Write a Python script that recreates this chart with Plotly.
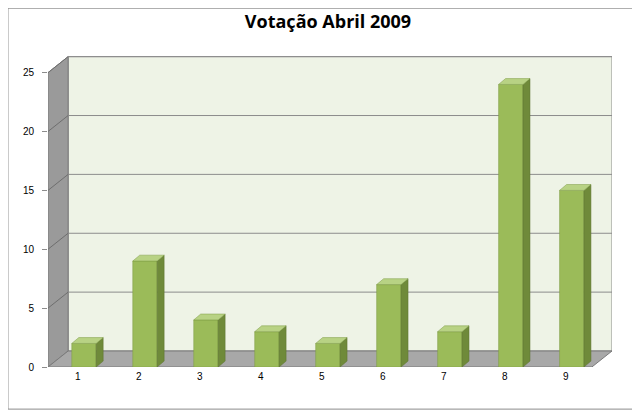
import plotly.graph_objects as go

categories = [1, 2, 3, 4, 5, 6, 7, 8, 9]
votes = [2, 9, 4, 3, 2, 7, 3, 24, 15]
tick_vals = [0, 5, 10, 15, 20, 25]

X0, X1 = 0.51, 9.76
WX, WY = 0.33, 1.36      # wall depth offset
BX, BY = 0.115, 0.5      # bar depth offset
HW = 0.2                 # half bar width

fig = go.Figure()
shapes = []
shapes.append(dict(type="rect", xref="x", yref="y", x0=X0 + WX, x1=X1, y0=WY, y1=25 + WY,
                   fillcolor="#eef3e6", line=dict(color="#8c8c8c", width=1), layer="below"))
shapes.append(dict(type="path", xref="x", yref="y",
                   path=f"M{X0},0 L{X0+WX},{WY} L{X0+WX},{25+WY} L{X0},25 Z",
                   fillcolor="#9a9a9a", line=dict(color="#7a7a7a", width=1), layer="below"))
shapes.append(dict(type="path", xref="x", yref="y",
                   path=f"M{X0},0 L{X1-WX},0 L{X1},{WY} L{X0+WX},{WY} Z",
                   fillcolor="#a8a8a8", line=dict(color="#7a7a7a", width=1), layer="below"))
for t in tick_vals[1:]:
    shapes.append(dict(type="line", xref="x", yref="y", x0=X0 + WX, x1=X1, y0=t + WY, y1=t + WY,
                       line=dict(color="#8c8c8c", width=1), layer="below"))
    shapes.append(dict(type="line", xref="x", yref="y", x0=X0, x1=X0 + WX, y0=t, y1=t + WY,
                       line=dict(color="#6e6e6e", width=1), layer="below"))
for c, v in zip(categories, votes):
    x = c + 0.1
    shapes.append(dict(type="path", xref="x", yref="y",
                       path=f"M{x+HW},0 L{x+HW+BX},{BY} L{x+HW+BX},{v+BY} L{x+HW},{v} Z",
                       fillcolor="#6f8a3a", line=dict(color="#5c7330", width=0.5)))
    shapes.append(dict(type="path", xref="x", yref="y",
                       path=f"M{x-HW},{v} L{x-HW+BX},{v+BY} L{x+HW+BX},{v+BY} L{x+HW},{v} Z",
                       fillcolor="#b8d284", line=dict(color="#7d9a45", width=0.5)))

fig.add_trace(go.Bar(x=[c + 0.1 for c in categories], y=votes, width=2 * HW,
                     marker=dict(color="#9bbb59", line=dict(color="#7d9a45", width=0.5)),
                     hoverinfo="y"))

fig.update_layout(
    width=640, height=412, paper_bgcolor="white", plot_bgcolor="rgba(0,0,0,0)",
    margin=dict(l=40, r=36, t=47, b=53),
    title=dict(text="<b>Votação Abril 2009</b>", x=0.5, y=0.966, xanchor="center", yanchor="middle",
               font=dict(family="Open Sans, Liberation Sans, sans-serif", size=18, color="black")),
    font=dict(family="Liberation Sans, Arial, sans-serif", size=10, color="black"),
    showlegend=False, shapes=shapes + [
        dict(type="rect", xref="paper", yref="paper", x0=-0.071, x1=1.044, y0=-0.135, y1=1.15,
             line=dict(color="#8c8c8c", width=1))],
    xaxis=dict(range=[X0, X1], tickvals=categories, ticktext=[str(c) for c in categories],
               showgrid=False, zeroline=False, showline=False, ticks="", ticklabelstandoff=2),
    yaxis=dict(range=[0, 26.5], tickvals=tick_vals, showgrid=False, zeroline=False,
               showline=False, ticks="outside", ticklen=5, tickcolor="#8c8c8c", ticklabelstandoff=6),
)
fig.write_html("out.html")
